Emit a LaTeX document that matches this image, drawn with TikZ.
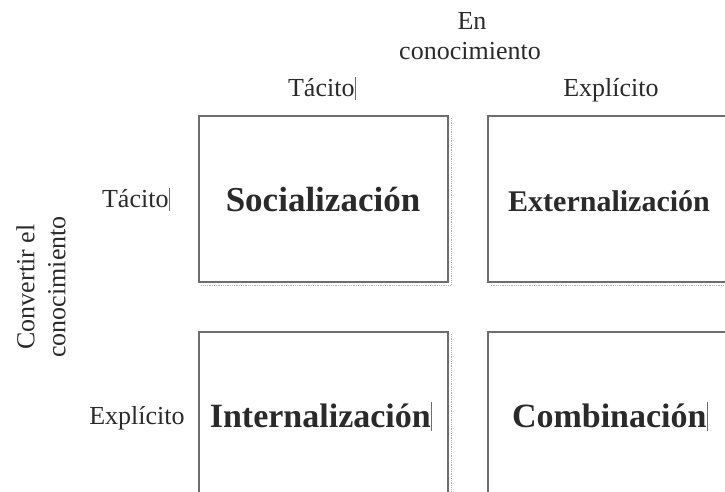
\documentclass[tikz,border=0pt]{standalone}
\usepackage{fontspec}
\setmainfont{Liberation Serif}
\definecolor{boxgray}{HTML}{6E6E6E}
\definecolor{txt}{HTML}{2A2A2A}
\newcommand{\cbar}{\kern0.5pt{\color{boxgray}\rule[-0.1em]{0.9pt}{0.85em}}}
\begin{document}
\begin{tikzpicture}[x=1pt,y=1pt,
  quad/.style={draw=boxgray,line width=1.6pt},
  shadowline/.style={draw=gray!60,line width=0.8pt,densely dotted},
  lbl/.style={font=\fontsize{26}{31}\selectfont,text=txt,inner sep=0pt,anchor=base},
  big/.style={font=\fontsize{34}{38}\selectfont\bfseries,text=txt,inner sep=0pt,anchor=base}]
\useasboundingbox (0,0) rectangle (725,492);
\clip (0,0) rectangle (725,492);
% shadows
\draw[shadowline] (451,374) -- (451,207) -- (201,207);
\draw[shadowline] (740,207) -- (490,207);
\draw[shadowline] (451,158) -- (451,-10);
% boxes
\draw[quad] (199,210) rectangle (448,376);
\draw[quad] (488,210) rectangle (740,376);
\draw[quad] (199,-10) rectangle (448,160);
\draw[quad] (488,-10) rectangle (740,160);
% headers
\node[lbl] (en1) at (472,462) {En};
\node[lbl] (en2) at (470,432) {conocimiento};
\node[lbl] (ct) at (322,395) {Tácito\cbar};
\node[lbl] (ce) at (611,395) {Explícito};
\node[lbl] (rt) at (136,284) {Tácito\cbar};
\node[lbl] (re) at (137,67) {Explícito};
\node[font=\fontsize{26}{31}\selectfont,text=txt,inner sep=0pt,align=center,rotate=90] (conv) at (41,205) {Convertir el\\conocimiento};
% quadrant labels
\node[big,font=\fontsize{35}{38}\selectfont\bfseries] (soc) at (323,280) {Socialización};
\node[big,font=\fontsize{30}{34}\selectfont\bfseries] (ext) at (609,280) {Externalización};
\node[big] (int) at (321,64) {Internalización\cbar};
\node[big] (com) at (610,64) {Combinación\cbar};
\end{tikzpicture}
\end{document}
